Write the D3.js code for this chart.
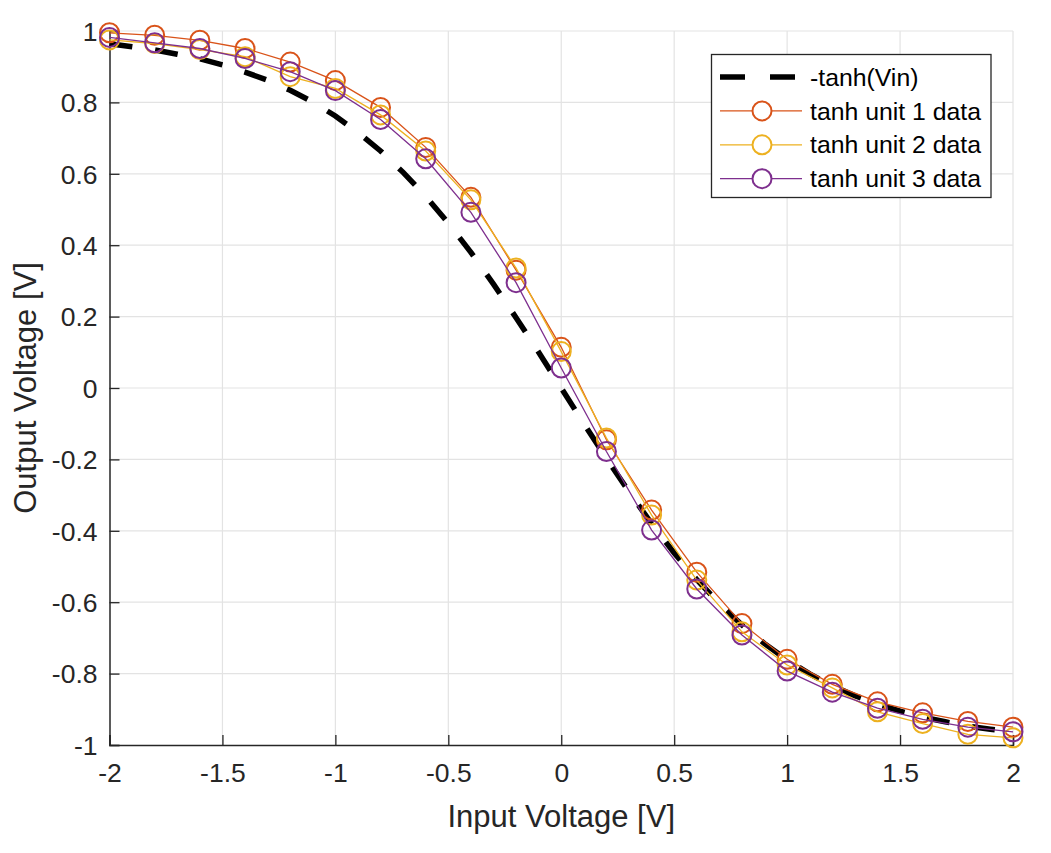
<!DOCTYPE html>
<html>
<head>
<meta charset="utf-8">
<script src="https://cdn.jsdelivr.net/npm/d3@7"></script>
<style>
  body { margin: 0; background: #fff; }
  svg { display: block; font-family: 'Liberation Sans', Arial, Helvetica, sans-serif; }
  .grid line { stroke: #e3e3e3; stroke-width: 1.2; }
  .tick-label { fill: #262626; font-size: 26.5px; }
  .axis-title { fill: #262626; font-size: 31px; }
  .legend text { fill: #000; font-size: 24.8px; }
</style>
</head>
<body>
<div id="chart"></div>
<script>
'use strict'

// sample inputs (Vin) of the measured units
const vin = [-2, -1.8, -1.6, -1.4, -1.2, -1, -0.8, -0.6, -0.4, -0.2, 0,
  0.2, 0.4, 0.6, 0.8, 1, 1.2, 1.4, 1.6, 1.8, 2]

const unit1 = [0.995, 0.988, 0.974, 0.951, 0.913, 0.861, 0.786, 0.674, 0.534, 0.330, 0.114,
  -0.145, -0.342, -0.516, -0.660, -0.760, -0.830, -0.879, -0.910, -0.934, -0.950]
const unit2 = [0.975, 0.965, 0.948, 0.928, 0.872, 0.839, 0.765, 0.664, 0.527, 0.336, 0.102,
  -0.140, -0.356, -0.538, -0.683, -0.776, -0.840, -0.907, -0.940, -0.970, -0.980]
const unit3 = [0.982, 0.967, 0.951, 0.923, 0.886, 0.833, 0.752, 0.642, 0.492, 0.295, 0.056,
  -0.178, -0.398, -0.563, -0.692, -0.793, -0.852, -0.897, -0.928, -0.950, -0.963]

// reference curve -tanh(Vin), sampled every 0.1 V
const refX = [-2, -1.9, -1.8, -1.7, -1.6, -1.5, -1.4, -1.3, -1.2, -1.1, -1,
  -0.9, -0.8, -0.7, -0.6, -0.5, -0.4, -0.3, -0.2, -0.1, 0,
  0.1, 0.2, 0.3, 0.4, 0.5, 0.6, 0.7, 0.8, 0.9, 1,
  1.1, 1.2, 1.3, 1.4, 1.5, 1.6, 1.7, 1.8, 1.9, 2]
const refY = [0.964, 0.956, 0.947, 0.935, 0.922, 0.905, 0.885, 0.862, 0.834, 0.801, 0.762,
  0.716, 0.664, 0.604, 0.537, 0.462, 0.380, 0.291, 0.197, 0.100, 0,
  -0.100, -0.197, -0.291, -0.380, -0.462, -0.537, -0.604, -0.664, -0.716, -0.762,
  -0.801, -0.834, -0.862, -0.885, -0.905, -0.922, -0.935, -0.947, -0.956, -0.964]

const xTicks = [-2, -1.5, -1, -0.5, 0, 0.5, 1, 1.5, 2]
const yTicks = [-1, -0.8, -0.6, -0.4, -0.2, 0, 0.2, 0.4, 0.6, 0.8, 1]

const seriesNames = ['-tanh(Vin)', 'tanh unit 1 data', 'tanh unit 2 data', 'tanh unit 3 data']
const seriesColors = ['#000000', '#D95319', '#EDB120', '#7E2F8E']

const width = 1051
const height = 853

const svg = d3.select('#chart')
  .append('svg')
  .attr('width', width)
  .attr('height', height)

const x = d3.scaleLinear().domain([-2, 2]).range([109.5, 1013])
const y = d3.scaleLinear().domain([-1, 1]).range([745, 31])

function drawGrid () {
  const grid = svg.append('g').attr('class', 'grid')
  grid.selectAll('line.gx')
    .data(xTicks.slice(1))
    .enter()
    .append('line')
    .attr('x1', d => x(d)).attr('x2', d => x(d))
    .attr('y1', y(-1)).attr('y2', y(1))
  grid.selectAll('line.gy')
    .data(yTicks.slice(1))
    .enter()
    .append('line')
    .attr('x1', x(-2)).attr('x2', x(2))
    .attr('y1', d => y(d)).attr('y2', d => y(d))
}

function drawAxes () {
  const fmt = d => String(d).replace('−', '-')

  const xAxis = svg.append('g')
    .attr('transform', `translate(0,${y(-1)})`)
    .call(d3.axisBottom(x).tickValues(xTicks).tickSize(-10).tickPadding(18).tickFormat(fmt))
  const yAxis = svg.append('g')
    .attr('transform', `translate(${x(-2)},0)`)
    .call(d3.axisLeft(y).tickValues(yTicks).tickSize(-10).tickPadding(12).tickFormat(fmt))

  ;[xAxis, yAxis].forEach(ax => {
    ax.select('.domain').attr('stroke', '#262626').attr('stroke-width', 1.5)
    ax.selectAll('.tick line').attr('stroke', '#262626').attr('stroke-width', 1.3)
    ax.selectAll('.tick text')
      .attr('class', 'tick-label')
      .attr('font-family', null)
      .attr('font-size', null)
  })
  yAxis.selectAll('.tick text').attr('dy', '0.35em')

  svg.append('text')
    .attr('class', 'axis-title')
    .attr('x', (x(-2) + x(2)) / 2)
    .attr('y', 827)
    .attr('text-anchor', 'middle')
    .text('Input Voltage [V]')
  svg.append('text')
    .attr('class', 'axis-title')
    .attr('transform', `translate(36,${(y(-1) + y(1)) / 2}) rotate(-90)`)
    .attr('text-anchor', 'middle')
    .text('Output Voltage [V]')
}

function drawSeries () {
  const line = d3.line().x(d => x(d[0])).y(d => y(d[1]))

  svg.append('path')
    .datum(refX.map((v, i) => [v, refY[i]]))
    .attr('d', line)
    .attr('fill', 'none')
    .attr('stroke', seriesColors[0])
    .attr('stroke-width', 5.5)
    .attr('stroke-dasharray', '23,23')

  const units = [unit1, unit2, unit3]
  units.forEach((vals, k) => {
    const pts = vin.map((v, i) => [v, vals[i]])
    const color = seriesColors[k + 1]
    const g = svg.append('g')
    g.append('path')
      .datum(pts)
      .attr('d', line)
      .attr('fill', 'none')
      .attr('stroke', color)
      .attr('stroke-width', 1.3)
    g.selectAll('circle')
      .data(pts)
      .enter()
      .append('circle')
      .attr('cx', d => x(d[0]))
      .attr('cy', d => y(d[1]))
      .attr('r', 9.5)
      .attr('fill', 'none')
      .attr('stroke', color)
      .attr('stroke-width', 2)
  })
}

function drawLegend () {
  const legend = svg.append('g').attr('class', 'legend')
  legend.append('rect')
    .attr('x', 711.5)
    .attr('y', 54.5)
    .attr('width', 279.5)
    .attr('height', 143)
    .attr('fill', '#fff')
    .attr('stroke', '#262626')
    .attr('stroke-width', 1.3)

  const rowY = i => 77 + i * 33.9
  const rows = legend.selectAll('g.row')
    .data(seriesNames)
    .enter()
    .append('g')
    .attr('class', 'row')
    .attr('transform', (d, i) => `translate(0,${rowY(i)})`)

  rows.append('line')
    .attr('x1', 720).attr('x2', d => d === seriesNames[0] ? 795 : 802)
    .attr('y1', 0).attr('y2', 0)
    .attr('stroke', (d, i) => seriesColors[i])
    .attr('stroke-width', (d, i) => i === 0 ? 5.5 : 1.3)
    .attr('stroke-dasharray', (d, i) => i === 0 ? '25,25' : null)
  rows.filter((d, i) => i > 0)
    .append('circle')
    .attr('cx', 762)
    .attr('cy', 0)
    .attr('r', 9.5)
    .attr('fill', '#fff')
    .attr('stroke', d => seriesColors[seriesNames.indexOf(d)])
    .attr('stroke-width', 2)
  rows.append('text')
    .attr('x', 810)
    .attr('y', 0)
    .attr('dy', '0.35em')
    .text(d => d)
}

drawGrid()
drawAxes()
drawSeries()
drawLegend()
</script>
</body>
</html>
